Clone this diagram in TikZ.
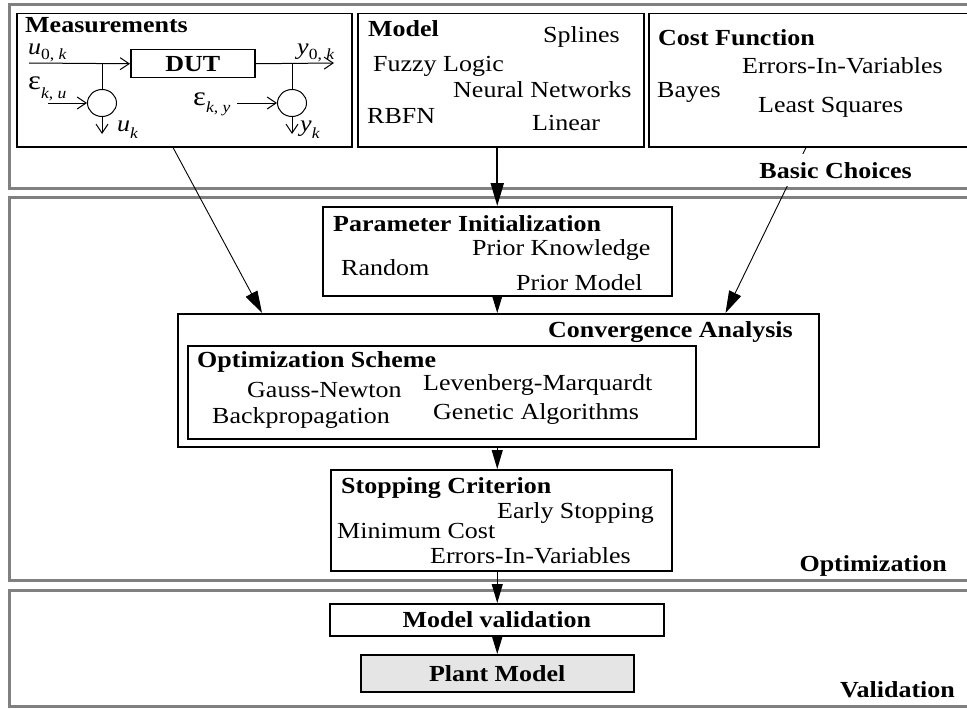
\documentclass[tikz,border=0pt]{standalone}
\usepackage{fontspec}
\setmainfont{Liberation Serif}[FakeStretch=1.13]
\usetikzlibrary{arrows.meta,shapes.geometric}

% lowered, smaller subscript text
\newcommand{\lsub}[2][5pt]{\raisebox{-#1}{\fontsize{15.5}{15.5}\selectfont #2}}
\newcommand{\epsl}{{\fontsize{27}{27}\selectfont ε}}

\begin{document}
\begin{tikzpicture}[x=1pt,y=-1pt,
  font=\fontsize{23}{27}\selectfont,
  frame/.style={draw=black!50, line width=2.8pt},
  blk/.style={draw, line width=1.5pt, anchor=north west, inner sep=0pt},
  lbl/.style={anchor=base west, inner sep=0pt},
  ttl/.style={anchor=base west, inner sep=0pt, font=\fontsize{23}{27}\selectfont\bfseries},
  ttlr/.style={anchor=base east, inner sep=0pt, font=\fontsize{23}{27}\selectfont\bfseries},
  sig/.style={line width=1pt, -{Straight Barb[length=9pt,width=12pt,line width=1pt]}},
  wire/.style={line width=1pt},
  noise/.style={ellipse, draw, line width=1pt, minimum width=29pt, minimum height=27pt, inner sep=0pt},
  feed/.style={line width=0.9pt, -{Triangle[length=22pt,width=13pt]}},
  stem/.style={line width=1pt, -{Triangle[length=19pt,width=11pt]}},
  stemshort/.style={line width=1pt, -{Triangle[length=17pt,width=10pt]}},
]
\useasboundingbox (0,0) rectangle (967,709);
\clip (0,0) rectangle (967,709);

% stage frames
\draw[frame] (9.5,4.5) rectangle (1000,188.5);
\draw[frame] (9.5,197.5) rectangle (1000,580.5);
\draw[frame] (9.5,590.5) rectangle (1000,706.5);

% basic choices
\node[blk, minimum width=335pt, minimum height=133pt] (meas) at (16,13) {};
\node[blk, minimum width=286pt, minimum height=133pt] (model) at (357,13) {};
\node[blk, minimum width=340pt, minimum height=133pt] (cost) at (648,13) {};

% measurement set-up
\node[blk, minimum width=124pt, minimum height=28pt, font=\fontsize{23}{27}\selectfont\bfseries] (dut) at (130,49) {DUT};
\coordinate (uin) at (29,63);
\coordinate (ubr) at (102,63);
\coordinate (ybr) at (292,63);
\coordinate (yout) at (334,63);
\node[noise] (cu) at (102,103) {};
\node[noise] (cy) at (292,103) {};
\coordinate (eu) at (48,103);
\coordinate (ey) at (237,103);
\coordinate (uk) at (102,134);
\coordinate (yk) at (292,134);
\draw[sig] (uin) -- (dut.west);
\draw[sig] (dut.east) -- (yout);
\draw[wire] (ubr) -- (cu.north);
\draw[wire] (ybr) -- (cy.north);
\draw[sig] (eu) -- (cu.west);
\draw[sig] (ey) -- (cy.west);
\draw[sig] (cu.south) -- (uk);
\draw[sig] (cy.south) -- (yk);

\node[ttl] (tmeas) at (25,33) {Measurements};
\node[lbl] (lu0) at (28,55) {\textit{u}\lsub{0, \textit{k}}};
\node[lbl] (ly0) at (297,55) {\textit{y}\lsub{0, \textit{k}}};
\node[lbl] (leu) at (28,90) {\epsl\lsub[9pt]{\textit{k}, \textit{u}}};
\node[lbl] (ley) at (193,106) {\epsl\lsub[6pt]{\textit{k}, \textit{y}}};
\node[lbl] (luk) at (117,131) {\textit{u}\lsub[7pt]{\textit{k}}};
\node[lbl] (lyk) at (300,131) {\textit{y}\lsub[7pt]{\textit{k}}};

% model classes
\node[ttl] (tmodel) at (368,37) {Model};
\node[lbl] (spl) at (543,43) {Splines};
\node[lbl] (fuz) at (373,72) {Fuzzy Logic};
\node[lbl] (nn) at (453,97) {Neural Networks};
\node[lbl] (rbf) at (367,123) {RBFN};
\node[lbl] (lin) at (532,130) {Linear};

% cost functions
\node[ttl] (tcost) at (658,46) {Cost Function};
\node[lbl] (eiv) at (742,74) {Errors-In-Variables};
\node[lbl] (bay) at (657,97) {Bayes};
\node[lbl] (lsq) at (758,112) {Least Squares};

% optimization stage
\node[blk, minimum width=349pt, minimum height=89pt] (init) at (322,206) {};
\node[blk, minimum width=641pt, minimum height=133pt] (conv) at (177,313) {};
\node[blk, minimum width=508pt, minimum height=93pt] (scheme) at (187,345) {};
\node[blk, minimum width=341pt, minimum height=101pt] (stop) at (330,469) {};

\node[ttl] (tinit) at (333,231) {Parameter Initialization};
\node[lbl] (pk) at (472,255) {Prior Knowledge};
\node[lbl] (rnd) at (341,275) {Random};
\node[lbl] (pm) at (516,290) {Prior Model};

\node[ttlr] (tconv) at (793,337) {Convergence Analysis};
\node[ttl] (tscheme) at (197,367) {Optimization Scheme};
\node[lbl] (gn) at (247,397) {Gauss-Newton};
\node[lbl] (lm) at (423,390) {Levenberg-Marquardt};
\node[lbl] (bp) at (212,423) {Backpropagation};
\node[lbl] (ga) at (433,419) {Genetic Algorithms};

\node[ttl] (tstop) at (341,493) {Stopping Criterion};
\node[lbl] (es) at (497,518) {Early Stopping};
\node[lbl] (mc) at (337,538) {Minimum Cost};
\node[lbl] (eiv2) at (430,563) {Errors-In-Variables};

% validation stage
\node[blk, minimum width=334pt, minimum height=32pt, font=\fontsize{23}{27}\selectfont\bfseries] (valid) at (329,603) {Model validation};
\node[blk, minimum width=273pt, minimum height=37pt, fill=black!10, font=\fontsize{23}{27}\selectfont\bfseries] (plant) at (360,654) {Plant Model};

% flow between the stages
\draw[feed] ([xshift=157pt]meas.south west) -- ([xshift=85pt]conv.north west);
\draw[feed] ([xshift=158pt]cost.south west) -- ([xshift=-94pt]conv.north east);
\draw[line width=2pt, -{Triangle[length=23pt,width=13pt]}] (model.south -| init.north) -- (init.north);
\draw[stemshort] (init.south) -- (init.south |- conv.north);
\draw[stem] (init.south |- conv.south) -- (init.south |- stop.north);
\draw[stem] (init.south |- stop.south) -- (init.south |- valid.north);
\draw[stemshort] (init.south |- valid.south) -- (init.south |- plant.north);

% stage labels
\node[ttlr, fill=white, inner xsep=3pt, inner ysep=8pt] (tbasic) at (915,178) {Basic Choices};
\node[ttlr] (topt) at (947,571) {Optimization};
\node[ttlr] (tval) at (955,697) {Validation};
\end{tikzpicture}
\end{document}
